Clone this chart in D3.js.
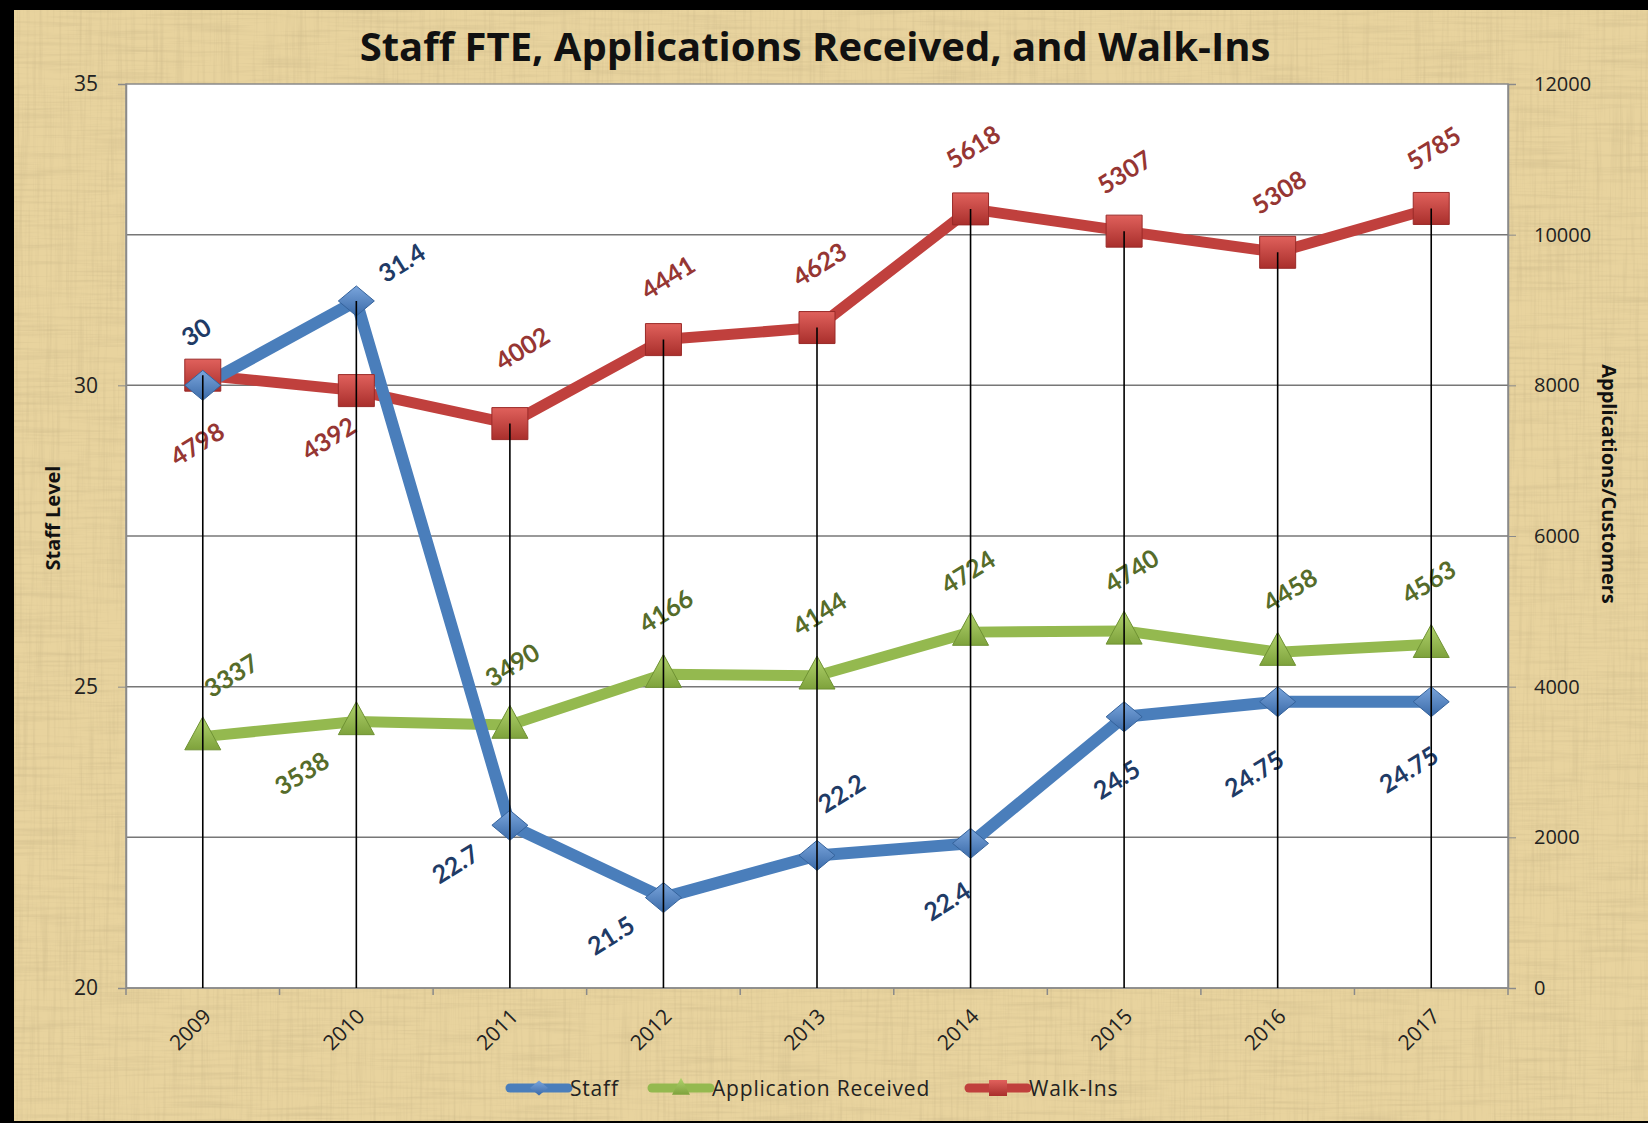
<!DOCTYPE html>
<html>
<head>
<meta charset="utf-8">
<script src="https://cdn.jsdelivr.net/npm/d3@7"></script>
<style>
  html, body { margin: 0; padding: 0; background: #000; }
  svg { display: block; }
</style>
</head>
<body>
<div id="chart"></div>
<script>
// chart data
const years = ["2009", "2010", "2011", "2012", "2013", "2014", "2015", "2016", "2017"];
const staff = [30, 31.4, 22.7, 21.5, 22.2, 22.4, 24.5, 24.75, 24.75];
const applications = [3337, 3538, 3490, 4166, 4144, 4724, 4740, 4458, 4563];
const walkIns = [4798, 4392, 4002, 4441, 4623, 5618, 5307, 5308, 5785];
const leftTicks = [20, 25, 30, 35];
const rightTicks = [0, 2000, 4000, 6000, 8000, 10000, 12000];

// label placement (dx, dy from the marker)
const staffLabelPos = [[-7,-54],[45,-39],[-55,38],[-53,37],[24,-63],[-24,57],[-8,62],[-24,71],[-23,67]];
const appLabelPos = [[28,-62],[-55,51],[2,-61],[2,-64],[2,-63],[-3,-61],[7,-61],[12,-63],[-3,-63]];
const walkLabelPos = [[-6,68],[-28,47],[12,-76],[4,-63],[2,-64],[2,-63],[0,-60],[1,-61],[2,-61]];

const width = 1648;
const height = 1123;
const marginTop = 84;
const marginRight = 140;
const marginBottom = 135;
const marginLeft = 126;
const font = "Lato, 'Open Sans', sans-serif";
const font2 = "'Open Sans', Lato, sans-serif";

const blue = "#4a7ebb", green = "#94b94f", red = "#c0403d";

const svg = d3.select("#chart")
    .append("svg")
    .attr("width", width)
    .attr("height", height)
    .attr("viewBox", [0, 0, width, height]);

const defs = svg.append("defs");

// parchment texture
const f = defs.append("filter").attr("id", "paper").attr("x", 0).attr("y", 0).attr("width", "100%").attr("height", "100%");
f.append("feTurbulence").attr("type", "fractalNoise").attr("baseFrequency", "0.012 0.3").attr("numOctaves", 3).attr("seed", 4).attr("result", "n1");
f.append("feColorMatrix").attr("in", "n1").attr("type", "matrix")
    .attr("values", "0 0 0 0 0.6  0 0 0 0 0.48  0 0 0 0 0.25  1.0 0 0 0 -0.45");
const f2 = defs.append("filter").attr("id", "paper2").attr("x", 0).attr("y", 0).attr("width", "100%").attr("height", "100%");
f2.append("feTurbulence").attr("type", "fractalNoise").attr("baseFrequency", "0.3 0.01").attr("numOctaves", 3).attr("seed", 9).attr("result", "n2");
f2.append("feColorMatrix").attr("in", "n2").attr("type", "matrix")
    .attr("values", "0 0 0 0 0.6  0 0 0 0 0.48  0 0 0 0 0.25  0.9 0 0 0 -0.42");

function grad(id, top, bottom) {
    const g = defs.append("linearGradient").attr("id", id).attr("x1", 0).attr("y1", 0).attr("x2", 0).attr("y2", 1);
    g.append("stop").attr("offset", "0%").attr("stop-color", top);
    g.append("stop").attr("offset", "100%").attr("stop-color", bottom);
}
grad("gBlue", "#7aa5dc", "#3a6aa8");
grad("gGreen", "#b2d46e", "#7ea23c");
grad("gRed", "#e0615c", "#a92f2c");

svg.append("rect").attr("width", width).attr("height", height).attr("fill", "#e8d39e");
svg.append("rect").attr("width", width).attr("height", height).attr("filter", "url(#paper)");
svg.append("rect").attr("width", width).attr("height", height).attr("filter", "url(#paper2)");

// black frame edges
svg.append("rect").attr("x", 0).attr("y", 0).attr("width", width).attr("height", 10).attr("fill", "#000");
svg.append("rect").attr("x", 0).attr("y", 0).attr("width", 14).attr("height", height).attr("fill", "#000");
svg.append("rect").attr("x", 0).attr("y", height - 2).attr("width", width).attr("height", 2).attr("fill", "#000");

const x = d3.scalePoint(years, [marginLeft, width - marginRight]).padding(0.5);
const yL = d3.scaleLinear([20, 35], [height - marginBottom, marginTop]);
const yR = d3.scaleLinear([0, 12000], [height - marginBottom, marginTop]);

// plot area
svg.append("rect")
    .attr("x", marginLeft).attr("y", marginTop)
    .attr("width", width - marginLeft - marginRight)
    .attr("height", height - marginTop - marginBottom)
    .attr("fill", "#fff")
    .attr("stroke", "#8a8a8a").attr("stroke-width", 1.5);

// gridlines from right axis
svg.append("g")
    .selectAll("line")
    .data(rightTicks.slice(1, -1))
    .join("line")
    .attr("x1", marginLeft).attr("x2", width - marginRight)
    .attr("y1", d => yR(d)).attr("y2", d => yR(d))
    .attr("stroke", "#777").attr("stroke-width", 1.5);

// left axis
svg.append("g")
    .attr("transform", `translate(${marginLeft},0)`)
    .call(d3.axisLeft(yL).tickValues(leftTicks).tickSize(8).tickPadding(20))
    .call(g => g.select(".domain").attr("stroke", "#8a8a8a").attr("stroke-width", 1.5))
    .call(g => g.selectAll(".tick line").attr("stroke", "#8a8a8a"))
    .call(g => g.selectAll("text").attr("font-family", font2).attr("font-size", 21).attr("fill", "#222"));

// right axis
svg.append("g")
    .attr("transform", `translate(${width - marginRight},0)`)
    .call(d3.axisRight(yR).tickValues(rightTicks).tickFormat(d3.format("d")).tickSize(8).tickPadding(18))
    .call(g => g.select(".domain").attr("stroke", "#8a8a8a").attr("stroke-width", 1.5))
    .call(g => g.selectAll(".tick line").attr("stroke", "#8a8a8a"))
    .call(g => g.selectAll("text").attr("font-family", font2).attr("font-size", 20).attr("fill", "#222"));

// bottom axis: ticks between categories
const step = x.step();
svg.append("g")
    .attr("transform", `translate(0,${height - marginBottom})`)
    .call(g => g.append("line").attr("x1", marginLeft).attr("x2", width - marginRight).attr("stroke", "#8a8a8a").attr("stroke-width", 1.5))
    .call(g => g.selectAll(".btick").data(d3.range(years.length + 1)).join("line")
        .attr("class", "btick")
        .attr("x1", i => marginLeft + i * step).attr("x2", i => marginLeft + i * step)
        .attr("y1", 0).attr("y2", 7).attr("stroke", "#8a8a8a").attr("stroke-width", 1.5))
    .call(g => g.selectAll(".ylab").data(years).join("text")
        .attr("class", "ylab")
        .attr("transform", d => `translate(${x(d) + 4},${24}) rotate(-45)`)
        .attr("text-anchor", "end")
        .attr("dominant-baseline", "central")
        .attr("font-family", font2).attr("font-size", 21).attr("fill", "#222")
        .text(d => d));

// axis titles
svg.append("text")
    .attr("transform", `translate(52,518) rotate(-90)`)
    .attr("text-anchor", "middle").attr("dominant-baseline", "central")
    .attr("font-family", font2).attr("font-weight", "bold").attr("font-size", 20).attr("fill", "#111")
    .text("Staff Level");
svg.append("text")
    .attr("transform", `translate(1609,484) rotate(90)`)
    .attr("text-anchor", "middle").attr("dominant-baseline", "central")
    .attr("font-family", font2).attr("font-weight", "bold").attr("font-size", 20).attr("fill", "#111")
    .text("Applications/Customers");

// title
svg.append("text")
    .attr("x", 815).attr("y", 61)
    .attr("text-anchor", "middle")
    .attr("font-family", font2).attr("font-weight", "bold").attr("font-size", 40).attr("fill", "#111")
    .text("Staff FTE, Applications Received, and Walk-Ins");

// walk-ins are drawn stacked on top of applications
const walkTop = walkIns.map((v, i) => v + applications[i]);

const staffPts = years.map((d, i) => [x(d), yL(staff[i])]);
const appPts = years.map((d, i) => [x(d), yR(applications[i])]);
const walkPts = years.map((d, i) => [x(d), yR(walkTop[i])]);

const line = d3.line();
svg.append("path").attr("d", line(appPts)).attr("fill", "none").attr("stroke", green).attr("stroke-width", 11).attr("stroke-linejoin", "round");
svg.append("path").attr("d", line(walkPts)).attr("fill", "none").attr("stroke", red).attr("stroke-width", 11).attr("stroke-linejoin", "round");
svg.append("path").attr("d", line(staffPts)).attr("fill", "none").attr("stroke", blue).attr("stroke-width", 12).attr("stroke-linejoin", "round");

function diamond(w, h) { return `M0,${-h/2}L${w/2},0L0,${h/2}L${-w/2},0Z`; }
function triangle(w, h) { return `M0,${-h*0.6}L${w/2},${h*0.4}L${-w/2},${h*0.4}Z`; }
function square(w, h) { return `M${-w/2},${-h/2}h${w}v${h}h${-w}Z`; }

svg.append("g").selectAll("path").data(appPts).join("path")
    .attr("transform", d => `translate(${d[0]},${d[1]})`)
    .attr("d", triangle(36, 33)).attr("fill", "url(#gGreen)").attr("stroke", "#6f9233").attr("stroke-width", 1);
svg.append("g").selectAll("path").data(walkPts).join("path")
    .attr("transform", d => `translate(${d[0]},${d[1]})`)
    .attr("d", square(36, 32)).attr("fill", "url(#gRed)").attr("stroke", "#9a2a28").attr("stroke-width", 1);
svg.append("g").selectAll("path").data(staffPts).join("path")
    .attr("transform", d => `translate(${d[0]},${d[1]})`)
    .attr("d", diamond(36, 30)).attr("fill", "url(#gBlue)").attr("stroke", "#35639c").attr("stroke-width", 1);

// data labels
function labels(pts, vals, pos, color) {
    svg.append("g").selectAll("text").data(pts).join("text")
        .attr("transform", (d, i) => `translate(${d[0] + pos[i][0]},${d[1] + pos[i][1]}) rotate(-32)`)
        .attr("text-anchor", "middle").attr("dominant-baseline", "central")
        .attr("font-family", font).attr("font-weight", "bold").attr("font-size", 25).attr("fill", color)
        .text((d, i) => vals[i]);
}
labels(staffPts, staff, staffLabelPos, "#1f3b66");
labels(appPts, applications, appLabelPos, "#566c2a");
labels(walkPts, walkIns, walkLabelPos, "#963633");

// drop lines
svg.append("g").selectAll("line").data(years).join("line")
    .attr("x1", d => x(d)).attr("x2", d => x(d))
    .attr("y1", (d, i) => Math.min(staffPts[i][1], appPts[i][1], walkPts[i][1]))
    .attr("y2", height - marginBottom)
    .attr("stroke", "#000").attr("stroke-width", 1.6);

// legend
const legend = [
    { name: "Staff", color: blue, fill: "url(#gBlue)", shape: diamond(18, 15), x: 510 },
    { name: "Application Received", color: green, fill: "url(#gGreen)", shape: triangle(18, 17), x: 652 },
    { name: "Walk-Ins", color: red, fill: "url(#gRed)", shape: square(18, 16), x: 969 }
];
const lg = svg.append("g").attr("transform", "translate(0,1088)");
legend.forEach(d => {
    const g = lg.append("g").attr("transform", `translate(${d.x},0)`);
    g.append("line").attr("x1", 0).attr("x2", 58).attr("stroke", d.color).attr("stroke-width", 9).attr("stroke-linecap", "round");
    g.append("path").attr("transform", "translate(29,0)").attr("d", d.shape).attr("fill", d.fill);
    g.append("text").attr("x", 60).attr("dominant-baseline", "central")
        .attr("font-family", font2).attr("font-size", 21).attr("letter-spacing", 0.8).attr("fill", "#222").text(d.name);
});
</script>
</body>
</html>
